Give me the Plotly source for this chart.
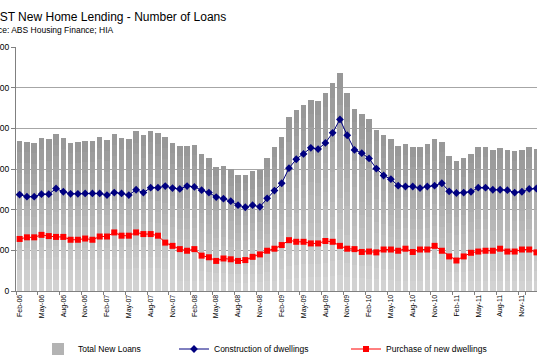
import plotly.graph_objects as go
import pandas as pd

# ---- data ----
months = list(pd.date_range("2006-02-01", periods=72, freq="MS").strftime("%b-%y"))

total_loans = [368, 367, 365, 377, 374, 387, 377, 365, 367, 369, 369, 378,
               372, 387, 377, 375, 393, 383, 394, 388, 378, 365, 357, 357,
               359, 336, 328, 305, 307, 300, 286, 286, 294, 297, 328, 355,
               378, 427, 445, 458, 470, 466, 488, 512, 535, 486, 448, 436,
               422, 397, 383, 375, 357, 361, 355, 355, 362, 374, 367, 333,
               319, 326, 338, 354, 354, 347, 351, 347, 344, 346, 354, 348]

construction = [237, 232, 232, 238, 238, 252, 244, 239, 239, 240, 240, 240,
                236, 242, 240, 236, 249, 242, 254, 254, 258, 253, 251, 258,
                256, 248, 242, 231, 227, 221, 211, 206, 211, 207, 228, 247,
                265, 302, 324, 337, 352, 349, 364, 389, 422, 383, 347, 339,
                326, 301, 284, 275, 259, 257, 257, 253, 257, 259, 265, 245,
                241, 242, 244, 254, 254, 249, 249, 248, 242, 244, 251, 252]

purchase = [128, 132, 132, 138, 135, 133, 133, 126, 126, 129, 126, 134,
            134, 144, 136, 136, 144, 140, 140, 136, 119, 111, 103, 99,
            103, 87, 83, 74, 80, 78, 74, 76, 84, 90, 99, 104,
            113, 125, 121, 121, 117, 117, 123, 121, 111, 104, 103, 96,
            97, 95, 102, 102, 99, 104, 96, 102, 102, 111, 99, 85,
            75, 85, 94, 97, 99, 99, 104, 97, 97, 102, 102, 95]

tick_labels = months[::3]
y_ticks = [0, 100, 200, 300, 400, 500, 600]

FONT = "Liberation Sans, Arial, sans-serif"

fig = go.Figure()

# Total bars drawn as a vertical gradient (stack of equal slices of each bar)
N = 14
light = (210, 210, 210)
dark = (152, 152, 152)
for k in range(N):
    f = k / (N - 1)
    c = tuple(round(light[j] + (dark[j] - light[j]) * f) for j in range(3))
    fig.add_trace(go.Bar(
        x=months, y=[t / N for t in total_loans],
        marker=dict(color="rgb(%d,%d,%d)" % c, line=dict(width=0)),
        name="Total New Loans", legend="legend",
        showlegend=(k == N // 2), legendgroup="total",
        hoverinfo="skip",
    ))

fig.add_trace(go.Scatter(
    x=months, y=construction, mode="lines+markers",
    name="Construction of dwellings", legend="legend2",
    line=dict(color="#000080", width=1),
    marker=dict(symbol="diamond", size=6, color="#000080"),
))
fig.add_trace(go.Scatter(
    x=months, y=purchase, mode="lines+markers",
    name="Purchase of new dwellings", legend="legend3",
    line=dict(color="#ff0000", width=1),
    marker=dict(symbol="square", size=6, color="#ff0000"),
))

W, H = 537, 360
ml, mr, mt, mb = 16, 0, 47, 69
pw = W - ml - mr
ph = H - mt - mb

def px_x(p):
    return (p - ml) / pw

def px_y(p):
    return 1 - (p - mt) / ph

legend_common = dict(orientation="h", yanchor="middle", xanchor="left",
                     font=dict(family=FONT, size=8.5, color="#000000"),
                     bgcolor="rgba(0,0,0,0)", itemwidth=30)

fig.update_layout(
    width=W, height=H,
    margin=dict(l=ml, r=mr, t=mt, b=mb, autoexpand=False),
    paper_bgcolor="white", plot_bgcolor="white",
    barmode="stack", bargap=0.24,
    font=dict(family=FONT, size=8.5, color="#000000"),
    legend=dict(x=px_x(38), y=px_y(349), **legend_common),
    legend2=dict(x=px_x(174), y=px_y(349), **legend_common),
    legend3=dict(x=px_x(346), y=px_y(349), **legend_common),
    xaxis=dict(
        type="category", range=[-0.5, 71.07],
        tickmode="array", tickvals=tick_labels, ticktext=tick_labels,
        tickangle=-90, tickfont=dict(family=FONT, size=7, color="#000000"),
        tickson="boundaries", ticks="outside", ticklen=3, tickcolor="#808080",
        showline=True, linecolor="#808080", linewidth=1,
        showgrid=False, automargin=False,
    ),
    yaxis=dict(
        range=[0, 600], tickmode="array", tickvals=y_ticks,
        ticks="outside", ticklen=4, tickcolor="#808080",
        tickfont=dict(family=FONT, size=8.5, color="#000000"),
        showline=True, linecolor="#808080", linewidth=1,
        showgrid=True, gridcolor="#a6a6a6", gridwidth=1,
        zeroline=False, automargin=False,
    ),
    annotations=[
        dict(text="AUST New Home Lending - Number of Loans", xref="paper", yref="paper",
             x=px_x(228), y=px_y(16.5), xanchor="right", yanchor="middle",
             showarrow=False, font=dict(family=FONT, size=12, color="#000000")),
        dict(text="Source: ABS Housing Finance; HIA", xref="paper", yref="paper",
             x=px_x(116), y=px_y(30), xanchor="right", yanchor="middle",
             showarrow=False, font=dict(family=FONT, size=8.5, color="#000000")),
    ],
)

fig.write_html("out.html", config={"displayModeBar": False},
               post_script="document.body.style.margin='0';")
